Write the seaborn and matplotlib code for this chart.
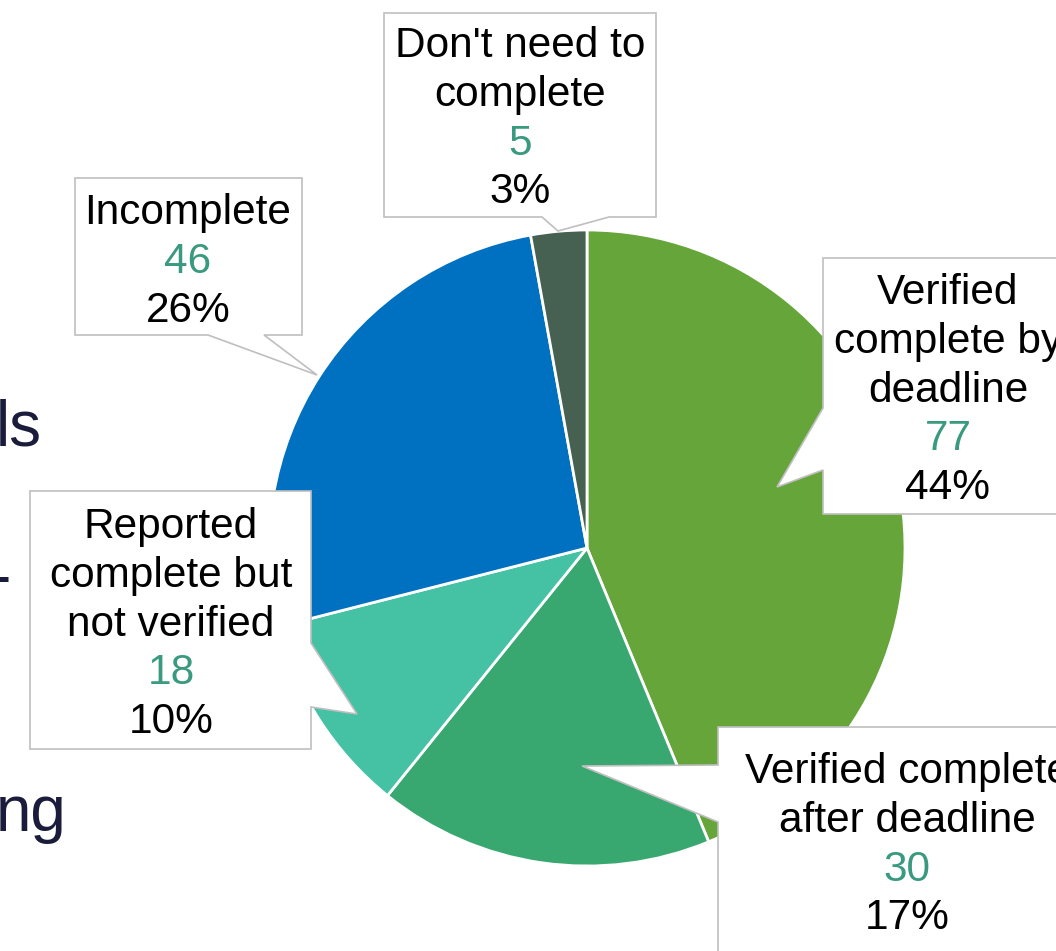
import matplotlib
matplotlib.use("Agg")
import matplotlib.pyplot as plt
import seaborn as sns
from matplotlib.patches import Polygon

# ---- data ----
categories = ["Verified complete by deadline", "Verified complete after deadline",
              "Reported complete but not verified", "Incomplete", "Don't need to complete"]
label_lines = [["Verified", "complete by", "deadline"],
               ["Verified complete", "after deadline"],
               ["Reported", "complete but", "not verified"],
               ["Incomplete"],
               ["Don't need to", "complete"]]
counts = [77, 30, 18, 46, 5]
colors = ["#65A539", "#38A870", "#45C1A4", "#0070C0", "#466052"]
number_color = "#3A9A80"

sns.set_theme(style="white")
plt.rcParams['font.family'] = ['Liberation Sans', 'DejaVu Sans']

W, H = 1056, 951
fig = plt.figure(figsize=(W / 100, H / 100), dpi=100)
ax = fig.add_axes([0, 0, 1, 1])

ax.pie(counts, colors=colors, startangle=-90, counterclock=True,
       center=(587, 548), radius=318,
       wedgeprops=dict(edgecolor="white", linewidth=2))
ax.set_xlim(0, W)
ax.set_ylim(H, 0)
ax.set_aspect("equal")
ax.axis("off")

total = sum(counts)

# callout layout: polygon outline, text center x, first baseline y
callouts = [
    dict(poly=[(823, 258), (1075, 258), (1075, 514), (823, 514), (823, 470), (777, 487), (823, 408)],
         cx=948, y0=304),
    dict(poly=[(718, 727), (1096, 727), (1096, 990), (718, 990), (718, 822), (582, 766), (718, 765)],
         cx=907, y0=783),
    dict(poly=[(30, 491), (311, 491), (311, 643), (357, 714), (311, 707), (311, 749), (30, 749)],
         cx=171, y0=538),
    dict(poly=[(75, 178), (302, 178), (302, 335), (264, 335), (317, 375), (208, 335), (75, 335)],
         cx=188, y0=224),
    dict(poly=[(384, 13), (656, 13), (656, 217), (609, 217), (558, 231), (542, 217), (384, 217)],
         cx=520, y0=57),
]
step = 48.8
fs = 30.5
for lines, n, c in zip(label_lines, counts, callouts):
    ax.add_patch(Polygon(c["poly"], closed=True, facecolor="white",
                         edgecolor="#BFBFBF", linewidth=1.2, zorder=3, clip_on=False))
    y = c["y0"]
    for ln in lines:
        ax.text(c["cx"], y, ln, ha="center", va="baseline", fontsize=fs, color="black", zorder=4)
        y += step
    ax.text(c["cx"], y, str(n), ha="center", va="baseline", fontsize=fs, color=number_color, zorder=4)
    y += step
    ax.text(c["cx"], y, f"{round(100 * n / total)}%", ha="center", va="baseline",
            fontsize=fs, color="black", zorder=4)

# partially visible slide text on the left
navy = "#1B1C3B"
ax.text(42, 446, "ls", ha="right", va="baseline", fontsize=46, color=navy, zorder=2)
ax.text(11, 597, "-", ha="right", va="baseline", fontsize=46, color=navy, zorder=2)
ax.text(67, 831, "ng", ha="right", va="baseline", fontsize=46, color=navy, zorder=2)

fig.savefig("out.png", dpi=100)
